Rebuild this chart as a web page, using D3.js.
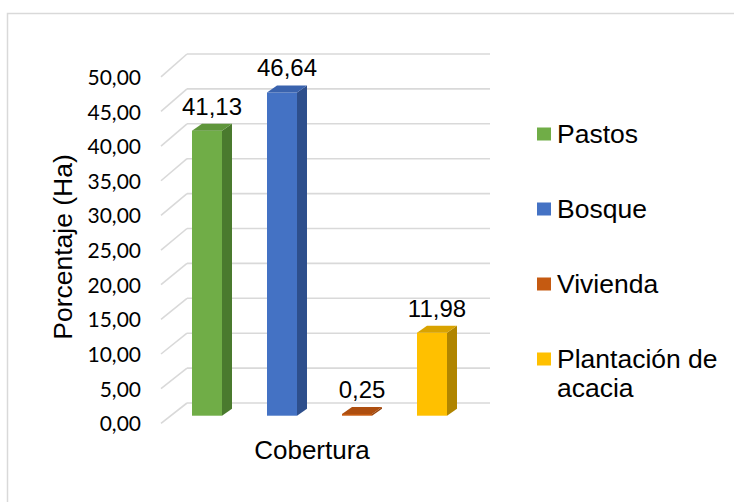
<!DOCTYPE html>
<html>
<head>
<meta charset="utf-8">
<script src="https://cdn.jsdelivr.net/npm/d3@7"></script>
<style>
  html, body { margin: 0; padding: 0; background: #ffffff; }
  svg { display: block; }
</style>
</head>
<body>
<svg id="chart" width="734" height="502"></svg>
<script>
// ---- data ----
const seriesNames = ["Pastos", "Bosque", "Vivienda", "Plantación de acacia"];
const values = [41.13, 46.64, 0.25, 11.98];
const valueLabels = ["41,13", "46,64", "0,25", "11,98"];
const category = "Cobertura";
const yTicks = [0, 5, 10, 15, 20, 25, 30, 35, 40, 45, 50];
const yTickLabels = ["0,00", "5,00", "10,00", "15,00", "20,00", "25,00", "30,00", "35,00", "40,00", "45,00", "50,00"];
const yTitle = "Porcentaje (Ha)";

// ---- styles ----
const frontColors = ["#70ad47", "#4472c4", "#c55a11", "#ffc000"];
const sideColors  = ["#4a7a2e", "#2e4f8c", "#97430c", "#b08500"];
const topColors   = ["#5f963b", "#3a63ae", "#ad4e0f", "#d9a300"];

const svg = d3.select("#chart");

// outer chart border (left and top visible)
svg.append("rect")
  .attr("x", 7.5).attr("y", 13.5)
  .attr("width", 800).attr("height", 600)
  .attr("fill", "#ffffff")
  .attr("stroke", "#d9d9d9").attr("stroke-width", 1.5);

// scales
const yFront = d3.scaleLinear().domain([0, 50]).range([423.3, 76.8]); // side-wall front edge / labels
const yBack  = d3.scaleLinear().domain([0, 50]).range([403, 54]);     // back wall
const yBar   = d3.scaleLinear().domain([0, 50]).range([415.7, 69.2]); // bar front faces
const x = d3.scaleBand().domain(seriesNames).range([169.5, 469.5]).padding(0);
const barW = x.bandwidth() * 0.4;
const depthX = 10, depthY = -7;

const sideFrontX = 161, backX = 187, backRight = 490;

// gridlines: side wall diagonals + back wall lines
const grid = svg.append("g");
yTicks.forEach(v => {
  grid.append("line")
    .attr("x1", sideFrontX).attr("y1", yFront(v))
    .attr("x2", backX).attr("y2", yBack(v))
    .attr("stroke", "#d9d9d9").attr("stroke-width", 1.6);
  grid.append("line")
    .attr("x1", backX).attr("y1", yBack(v))
    .attr("x2", backRight).attr("y2", yBack(v))
    .attr("stroke", "#d9d9d9").attr("stroke-width", 1.6);
});

// y tick labels
const yAxis = d3.axisLeft(yFront).tickValues(yTicks)
  .tickFormat((d, i) => yTickLabels[i]).tickSize(0).tickPadding(0);
const axisG = svg.append("g").attr("transform", "translate(141,0)").call(yAxis);
axisG.select(".domain").remove();
axisG.selectAll("text")
  .attr("font-family", "Lato, 'Open Sans', sans-serif")
  .attr("font-size", 21)
  .attr("fill", "#000000")
  .attr("dy", "0.36em");

// y title
svg.append("text")
  .attr("transform", "translate(72,247) rotate(-90)")
  .attr("text-anchor", "middle")
  .attr("font-family", "'Liberation Sans', Arial, sans-serif")
  .attr("font-size", 26.5)
  .attr("fill", "#000000")
  .text(yTitle);

// bars
const bars = svg.append("g");
seriesNames.forEach((s, i) => {
  const v = values[i];
  const x0 = x(s) + (x.bandwidth() - barW) / 2;
  const x1 = x0 + barW;
  const yT = yBar(v), yB = yBar(0);
  // side face
  bars.append("polygon")
    .attr("points", [[x1, yT], [x1 + depthX, yT + depthY], [x1 + depthX, yB + depthY], [x1, yB]].join(" "))
    .attr("fill", sideColors[i]);
  // front face
  bars.append("rect")
    .attr("x", x0).attr("y", yT)
    .attr("width", barW).attr("height", Math.max(yB - yT, 0))
    .attr("fill", frontColors[i]);
  // top face
  bars.append("polygon")
    .attr("points", [[x0, yT], [x0 + depthX, yT + depthY], [x1 + depthX, yT + depthY], [x1, yT]].join(" "))
    .attr("fill", topColors[i]);
  // value label
  bars.append("text")
    .attr("x", (x0 + x1) / 2 + depthX / 2)
    .attr("y", yT + depthY - 9)
    .attr("text-anchor", "middle")
    .attr("font-family", "'Liberation Sans', Arial, sans-serif")
    .attr("font-size", 24)
    .attr("fill", "#000000")
    .text(valueLabels[i]);
});

// category axis title
svg.append("text")
  .attr("x", 312).attr("y", 459.3)
  .attr("text-anchor", "middle")
  .attr("font-family", "'Liberation Sans', Arial, sans-serif")
  .attr("font-size", 26)
  .attr("fill", "#000000")
  .text(category);

// legend
const legend = svg.append("g");
const legendY = d3.scalePoint().domain(seriesNames).range([134, 359]);
seriesNames.forEach((s, i) => {
  const cy = legendY(s);
  legend.append("rect")
    .attr("x", 537).attr("y", cy - 6.5)
    .attr("width", 14).attr("height", 13)
    .attr("fill", frontColors[i]);
  const t = legend.append("text")
    .attr("x", 557).attr("y", cy + 9)
    .attr("font-family", "'Liberation Sans', Arial, sans-serif")
    .attr("font-size", 26.5)
    .attr("fill", "#000000");
  const lines = s === "Plantación de acacia" ? ["Plantación de", "acacia"] : [s];
  lines.forEach((ln, j) => {
    t.append("tspan").attr("x", 557).attr("dy", j === 0 ? 0 : 29).text(ln);
  });
});
</script>
</body>
</html>
